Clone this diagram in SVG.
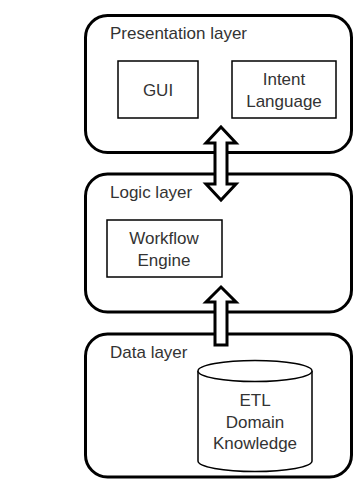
<svg xmlns="http://www.w3.org/2000/svg" width="354" height="479" viewBox="0 0 354 479">
<style>
.layer{fill:#fff;stroke:#000;stroke-width:3}
.box{fill:#fff;stroke:#000;stroke-width:1.5}
.arr{fill:#fff;stroke:#000;stroke-width:3;stroke-linejoin:miter}
text{font-family:"Liberation Sans",Arial,sans-serif;font-size:17px;fill:#333}
.c{text-anchor:middle}
</style>
<rect width="354" height="479" fill="#fff"/>
<g id="presentation">
<rect class="layer" x="85.5" y="15.5" width="266" height="137" rx="22"/>
<text x="110" y="39">Presentation layer</text>
</g>
<g id="gui">
<rect class="box" x="118" y="61" width="80" height="57"/>
<text class="c" x="158" y="96">GUI</text>
</g>
<g id="intent">
<rect class="box" x="232" y="61" width="104" height="57"/>
<text class="c" x="284" y="85">Intent</text>
<text class="c" x="284" y="107">Language</text>
</g>
<g id="logic">
<rect class="layer" x="85.5" y="174" width="266" height="138" rx="22"/>
<text x="110" y="198">Logic layer</text>
</g>
<g id="workflow">
<rect class="box" x="107" y="220" width="115" height="57"/>
<text class="c" x="164" y="244">Workflow</text>
<text class="c" x="164" y="266">Engine</text>
</g>
<g id="data">
<rect class="layer" x="85.5" y="334" width="266" height="143" rx="22"/>
<text x="110" y="358">Data layer</text>
</g>
<g id="etl">
<path class="box" d="M198,371 L198,461 A57,10.5 0 0 0 312,461 L312,371 A57,10.5 0 0 0 198,371 Z"/>
<path class="box" d="M198,371 A57,10.5 0 0 0 312,371" fill="none"/>
<text class="c" x="255" y="406">ETL</text>
<text class="c" x="255" y="428">Domain</text>
<text class="c" x="255" y="449">Knowledge</text>
</g>
<g id="connectors">
<path class="arr" d="M221,127 L236,143 L227,143 L227,184 L236,184 L221,200 L206,184 L215,184 L215,143 L206,143 Z"/>
<path class="arr" d="M221,287 L236,302 L227,302 L227,345 L215,345 L215,302 L206,302 Z"/>
</g>
</svg>
